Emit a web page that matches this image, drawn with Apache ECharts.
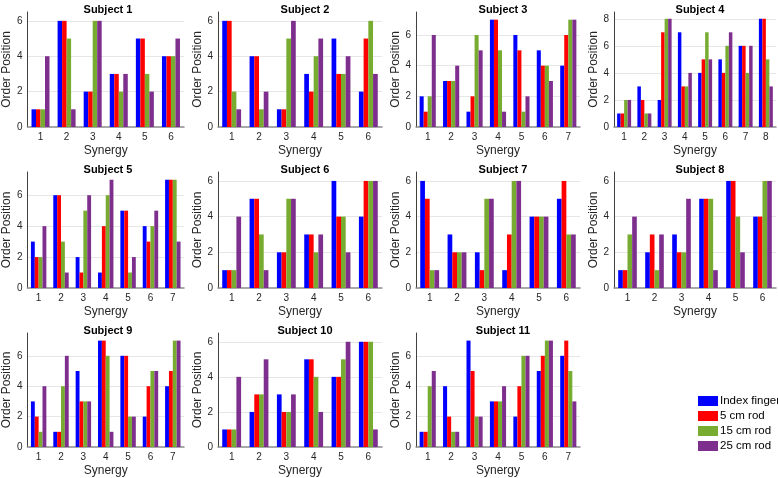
<!DOCTYPE html>
<html><head><meta charset="utf-8">
<script src="https://cdn.jsdelivr.net/npm/echarts@6/dist/echarts.min.js"></script>
<style>html,body{margin:0;padding:0;background:#fff}#c{width:778px;height:478px}</style>
</head><body><div id="c"></div>
<script>
const subjects = ['Subject 1','Subject 2','Subject 3','Subject 4','Subject 5','Subject 6','Subject 7','Subject 8','Subject 9','Subject 10','Subject 11'];
const seriesNames = ['Index finger','5 cm rod','15 cm rod','25 cm rod'];
const indexFinger = [[1,6,2,3,5,4],[6,4,1,3,5,2],[2,3,1,7,6,5,4],[1,3,2,7,4,5,6,8],[3,6,2,1,5,4,7],[1,5,2,3,6,4],[6,3,2,1,4,5],[1,2,3,5,6,4],[3,1,5,7,6,2,4],[1,2,3,5,4,6],[1,4,7,3,2,5,6]];
const rod5 = [[1,6,2,3,5,4],[6,4,1,2,3,5],[1,3,2,7,5,4,6],[1,2,7,3,5,4,6,8],[2,6,1,4,5,3,7],[1,5,2,3,4,6],[5,2,1,3,4,6],[1,3,2,5,6,4],[2,1,3,7,6,4,5],[1,3,2,5,4,6],[1,2,5,3,4,6,7]];
const rod15 = [[1,5,6,2,3,4],[2,1,5,4,3,6],[2,3,6,5,1,4,7],[2,1,8,3,7,6,4,5],[2,3,5,6,1,4,7],[1,3,5,2,4,6],[1,2,5,6,4,3],[3,1,2,5,4,6],[1,4,3,6,2,5,7],[1,3,2,4,5,6],[4,1,2,3,6,7,5]];
const rod25 = [[4,1,6,3,2,5],[1,2,6,5,4,3],[6,4,5,1,2,3,7],[2,1,8,4,5,7,6,3],[4,1,6,7,2,5,3],[4,1,5,3,2,6],[1,2,5,6,4,3],[4,3,5,1,2,6],[4,6,3,1,2,5,7],[4,5,3,2,6,1],[5,1,2,4,6,7,3]];
const yMax = [6.5,6.5,7.5,8.5,7.5,6.5,6.5,6.5,7.5,6.5,7.5];
const colors = ['#0000ff','#ff0000','#77ac30','#7e2f8e'];

const colLeft = [22,218,416,614];
const colWidth = [162,164,164,162];
const rowTop = [12,172,333];
const rowHeight = [115,116,115];
const FONT = 'Liberation Sans, Arial, Helvetica, sans-serif';

const grids=[], xAxes=[], yAxes=[], series=[], titles=[];
const allData = [indexFinger, rod5, rod15, rod25];
subjects.forEach((name,i)=>{
  const r = Math.floor(i/4), c = i%4;
  grids.push({left:colLeft[c], top:rowTop[r], width:colWidth[c], height:rowHeight[r], containLabel:false});
  titles.push({text:name, left:colLeft[c]+colWidth[c]/2, top:rowTop[r]-13, textAlign:'center',
    textStyle:{fontFamily:FONT, fontSize:11, fontWeight:'bold', color:'#000'}});
  const n = indexFinger[i].length;
  const cats = Array.from({length:n},(_,k)=>String(k+1));
  xAxes.push({type:'category', gridIndex:i, data:cats, boundaryGap:true,
    name:'Synergy', nameLocation:'middle', nameGap:18,
    nameTextStyle:{fontFamily:FONT, fontSize:12, color:'#262626'},
    axisLine:{lineStyle:{color:'#8c8c8c', width:1.5}}, axisTick:{show:false},
    axisLabel:{fontFamily:FONT, fontSize:10, color:'#262626', margin:5}});
  yAxes.push({type:'value', gridIndex:i, min:0, max:yMax[i], interval:2,
    name:'Order Position', nameLocation:'middle', nameGap:12,
    nameTextStyle:{fontFamily:FONT, fontSize:12, color:'#262626'},
    axisLine:{show:true, lineStyle:{color:'#404040', width:1}}, axisTick:{show:false},
    axisLabel:{fontFamily:FONT, fontSize:10, color:'#262626', margin:5, showMaxLabel:false},
    splitLine:{show:true, showMinLine:false, showMaxLine:false, lineStyle:{color:'#e6e6e6', width:1}}});
  allData.forEach((arr,s)=>{
    series.push({type:'bar', name:seriesNames[s], xAxisIndex:i, yAxisIndex:i, data:arr[i],
      itemStyle:{color:colors[s]}, barGap:'0%', barCategoryGap:'31%', silent:true, animation:false});
  });
});

const chart = echarts.init(document.getElementById('c'), null, {renderer:'canvas'});
chart.setOption({
  animation:false,
  backgroundColor:'#fff',
  title:titles,
  grid:grids, xAxes:undefined, xAxis:xAxes, yAxis:yAxes, series:series,
  legend:{data:seriesNames, orient:'vertical', left:698, top:395, itemWidth:20, itemHeight:10, itemGap:3,
    icon:'rect', textStyle:{fontFamily:FONT, fontSize:11.5, color:'#000', padding:[0,0,0,-3]}, padding:0}
});
</script></body></html>
